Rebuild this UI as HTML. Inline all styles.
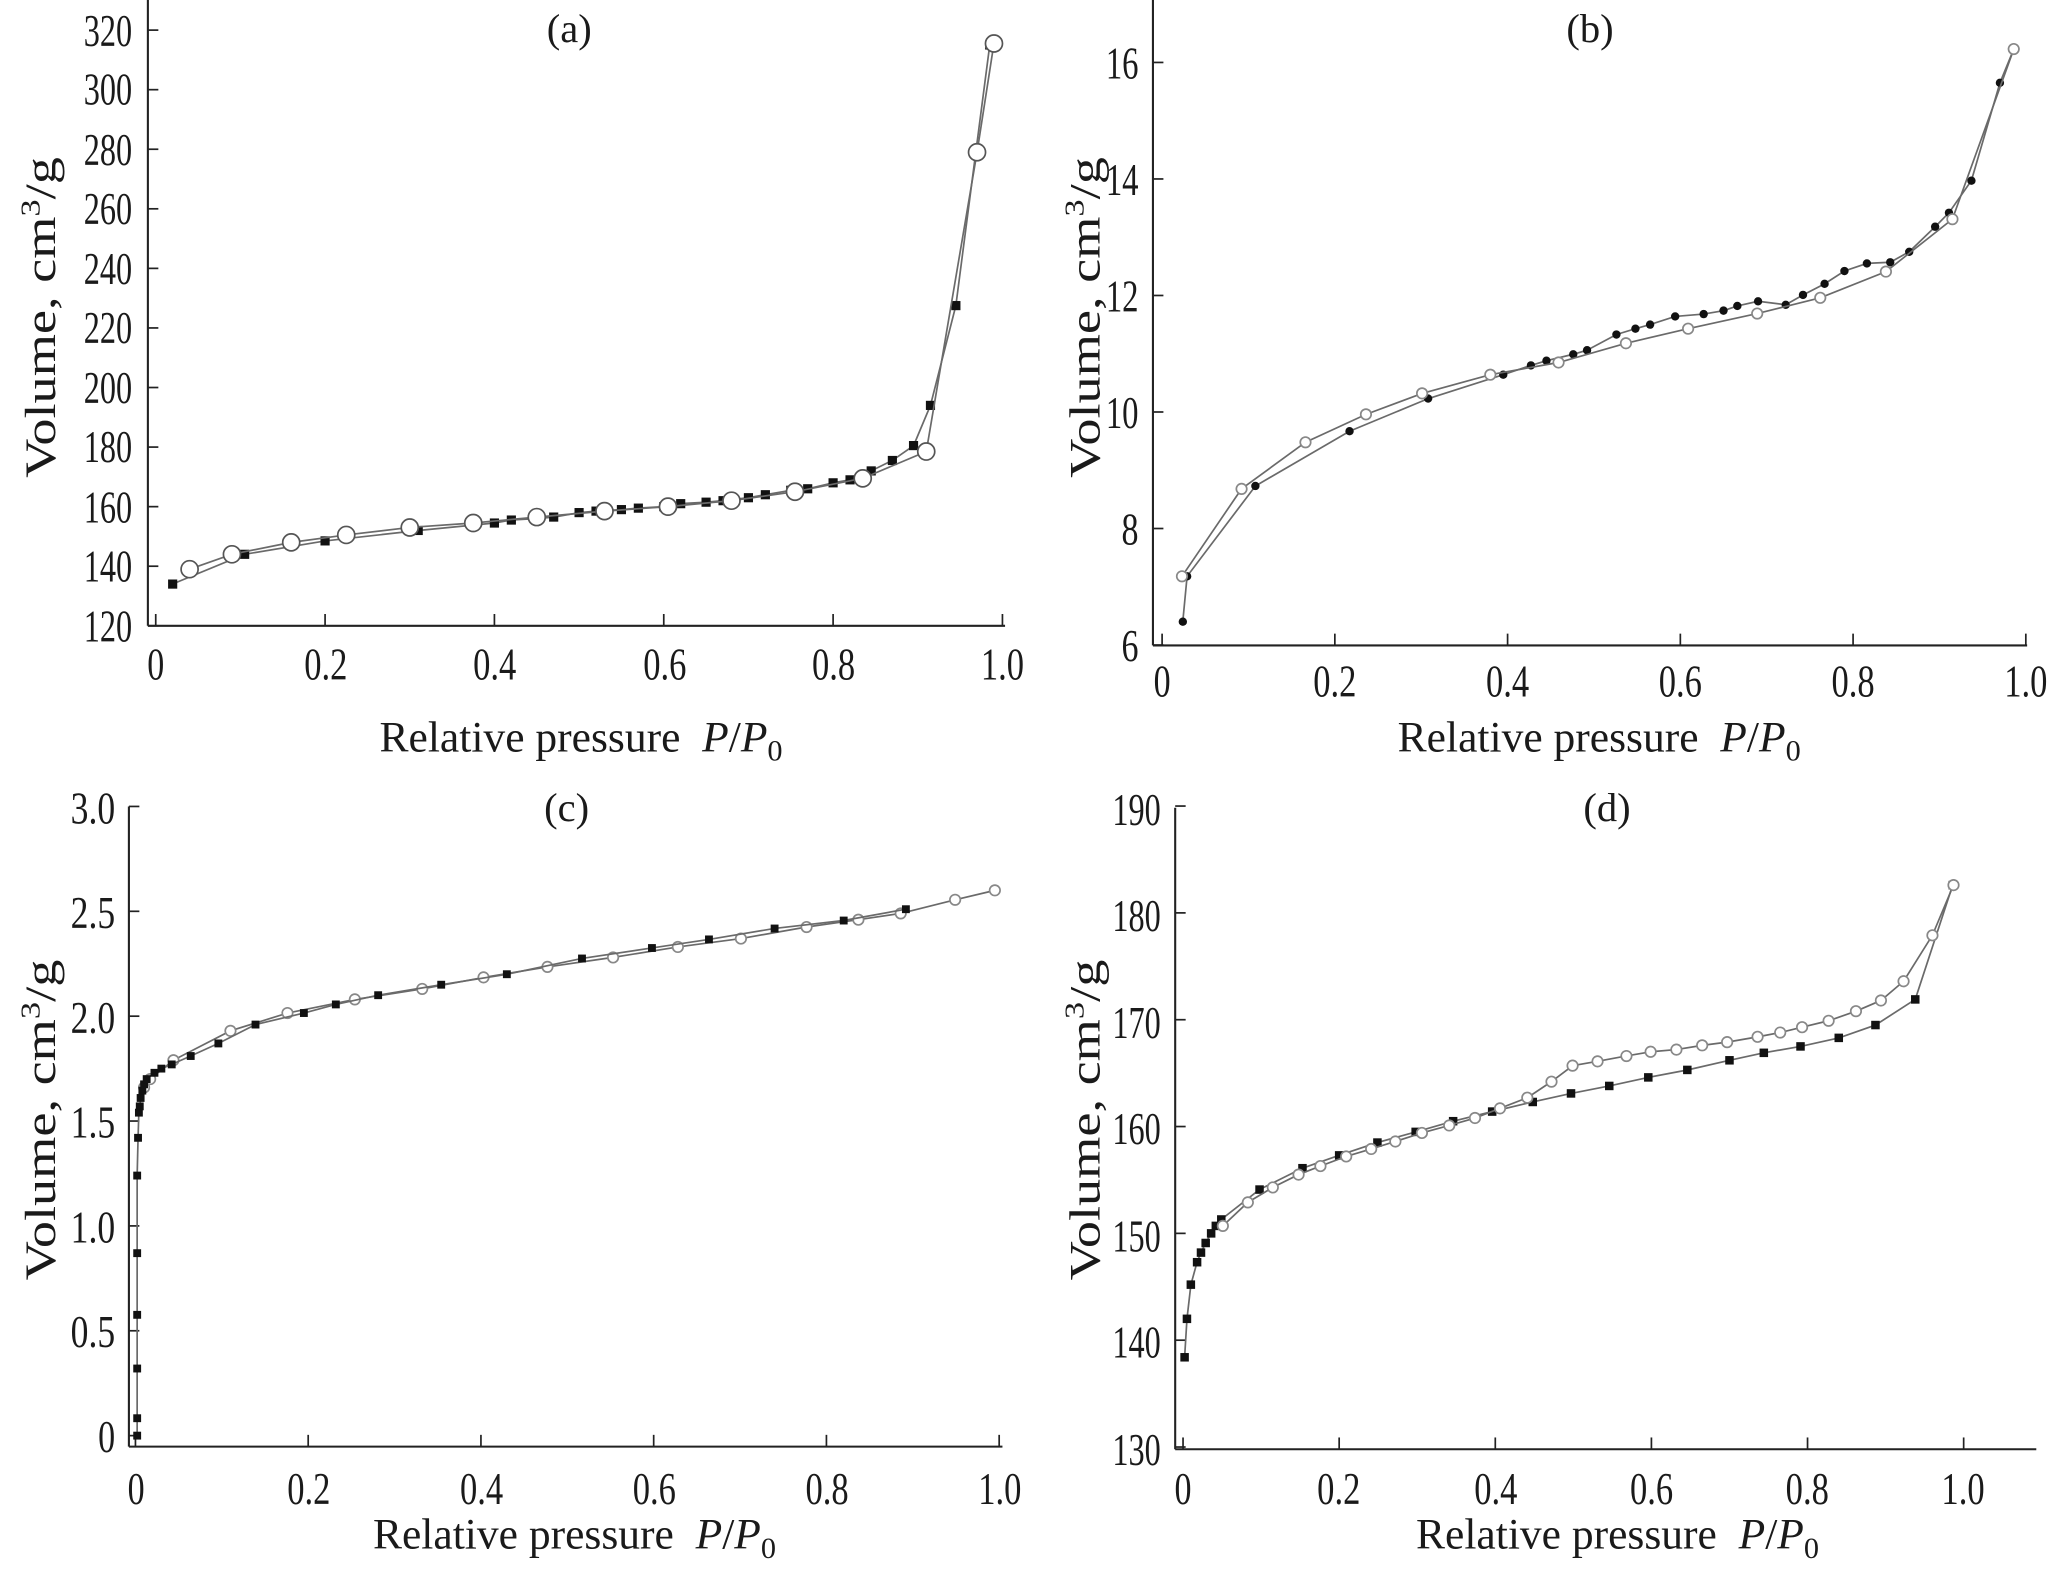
<!DOCTYPE html>
<html><head><meta charset="utf-8"><style>
html,body{margin:0;padding:0;background:#fff;}
svg{display:block;}
text{font-family:"Liberation Serif","DejaVu Serif",serif;fill:#1a1a1a;}
.t{font-size:35px;}
.ti{font-size:31px;}
.lab{font-size:33px;}
</style></head><body>
<svg id="s" width="2052" height="1571" viewBox="0 0 1568 1200" preserveAspectRatio="none" xmlns="http://www.w3.org/2000/svg">
<g id="g"></g>
<!-- Panel a text -->
<text class="ti" x="435" y="32" text-anchor="middle">(a)</text>
<g class="t" text-anchor="end">
<text x="101" y="35" textLength="37" lengthAdjust="spacingAndGlyphs">320</text>
<text x="101" y="80" textLength="37" lengthAdjust="spacingAndGlyphs">300</text>
<text x="101" y="126" textLength="37" lengthAdjust="spacingAndGlyphs">280</text>
<text x="101" y="171" textLength="37" lengthAdjust="spacingAndGlyphs">260</text>
<text x="101" y="217" textLength="37" lengthAdjust="spacingAndGlyphs">240</text>
<text x="101" y="262" textLength="37" lengthAdjust="spacingAndGlyphs">220</text>
<text x="101" y="308" textLength="37" lengthAdjust="spacingAndGlyphs">200</text>
<text x="101" y="353" textLength="37" lengthAdjust="spacingAndGlyphs">180</text>
<text x="101" y="399" textLength="37" lengthAdjust="spacingAndGlyphs">160</text>
<text x="101" y="444" textLength="37" lengthAdjust="spacingAndGlyphs">140</text>
<text x="101" y="490" textLength="37" lengthAdjust="spacingAndGlyphs">120</text>
</g>
<g class="t" text-anchor="middle">
<text x="119" y="519" textLength="13" lengthAdjust="spacingAndGlyphs">0</text>
<text x="249" y="519" textLength="33" lengthAdjust="spacingAndGlyphs">0.2</text>
<text x="378" y="519" textLength="33" lengthAdjust="spacingAndGlyphs">0.4</text>
<text x="508" y="519" textLength="33" lengthAdjust="spacingAndGlyphs">0.6</text>
<text x="637" y="519" textLength="33" lengthAdjust="spacingAndGlyphs">0.8</text>
<text x="766" y="519" textLength="33" lengthAdjust="spacingAndGlyphs">1.0</text>
</g>
<text class="lab" x="290" y="574" textLength="308" lengthAdjust="spacingAndGlyphs">Relative pressure&#160;&#160;<tspan font-style="italic">P</tspan>/<tspan font-style="italic">P</tspan><tspan font-size="23" dy="7">0</tspan></text>
<text class="lab" transform="translate(42,365) rotate(-90)" textLength="245" lengthAdjust="spacingAndGlyphs">Volume, cm<tspan font-size="21" dy="-12">3</tspan><tspan dy="12">/g</tspan></text>

<!-- Panel b text -->
<text class="ti" x="1215" y="32" text-anchor="middle">(b)</text>
<g class="t" text-anchor="end">
<text x="870" y="60" textLength="25" lengthAdjust="spacingAndGlyphs">16</text>
<text x="870" y="149" textLength="25" lengthAdjust="spacingAndGlyphs">14</text>
<text x="870" y="238" textLength="25" lengthAdjust="spacingAndGlyphs">12</text>
<text x="870" y="327" textLength="25" lengthAdjust="spacingAndGlyphs">10</text>
<text x="870" y="416" textLength="13" lengthAdjust="spacingAndGlyphs">8</text>
<text x="870" y="505" textLength="13" lengthAdjust="spacingAndGlyphs">6</text>
</g>
<g class="t" text-anchor="middle">
<text x="888" y="532" textLength="13" lengthAdjust="spacingAndGlyphs">0</text>
<text x="1020" y="532" textLength="33" lengthAdjust="spacingAndGlyphs">0.2</text>
<text x="1152" y="532" textLength="33" lengthAdjust="spacingAndGlyphs">0.4</text>
<text x="1284" y="532" textLength="33" lengthAdjust="spacingAndGlyphs">0.6</text>
<text x="1416" y="532" textLength="33" lengthAdjust="spacingAndGlyphs">0.8</text>
<text x="1548" y="532" textLength="33" lengthAdjust="spacingAndGlyphs">1.0</text>
</g>
<text class="lab" x="1068" y="574" textLength="308" lengthAdjust="spacingAndGlyphs">Relative pressure&#160;&#160;<tspan font-style="italic">P</tspan>/<tspan font-style="italic">P</tspan><tspan font-size="23" dy="7">0</tspan></text>
<text class="lab" transform="translate(840,365) rotate(-90)" textLength="245" lengthAdjust="spacingAndGlyphs">Volume, cm<tspan font-size="21" dy="-12">3</tspan><tspan dy="12">/g</tspan></text>

<!-- Panel c text -->
<text class="ti" x="433" y="627" text-anchor="middle">(c)</text>
<g class="t" text-anchor="end">
<text x="88" y="629" textLength="34" lengthAdjust="spacingAndGlyphs">3.0</text>
<text x="88" y="709" textLength="34" lengthAdjust="spacingAndGlyphs">2.5</text>
<text x="88" y="789" textLength="34" lengthAdjust="spacingAndGlyphs">2.0</text>
<text x="88" y="869" textLength="34" lengthAdjust="spacingAndGlyphs">1.5</text>
<text x="88" y="949" textLength="34" lengthAdjust="spacingAndGlyphs">1.0</text>
<text x="88" y="1029" textLength="34" lengthAdjust="spacingAndGlyphs">0.5</text>
<text x="88" y="1109" textLength="13" lengthAdjust="spacingAndGlyphs">0</text>
</g>
<g class="t" text-anchor="middle">
<text x="104" y="1149" textLength="13" lengthAdjust="spacingAndGlyphs">0</text>
<text x="236" y="1149" textLength="33" lengthAdjust="spacingAndGlyphs">0.2</text>
<text x="368" y="1149" textLength="33" lengthAdjust="spacingAndGlyphs">0.4</text>
<text x="500" y="1149" textLength="33" lengthAdjust="spacingAndGlyphs">0.6</text>
<text x="632" y="1149" textLength="33" lengthAdjust="spacingAndGlyphs">0.8</text>
<text x="764" y="1149" textLength="33" lengthAdjust="spacingAndGlyphs">1.0</text>
</g>
<text class="lab" x="285" y="1183" textLength="308" lengthAdjust="spacingAndGlyphs">Relative pressure&#160;&#160;<tspan font-style="italic">P</tspan>/<tspan font-style="italic">P</tspan><tspan font-size="23" dy="7">0</tspan></text>
<text class="lab" transform="translate(42,978) rotate(-90)" textLength="245" lengthAdjust="spacingAndGlyphs">Volume, cm<tspan font-size="21" dy="-12">3</tspan><tspan dy="12">/g</tspan></text>

<!-- Panel d text -->
<text class="ti" x="1228" y="627" text-anchor="middle">(d)</text>
<g class="t" text-anchor="end">
<text x="887" y="630" textLength="37" lengthAdjust="spacingAndGlyphs">190</text>
<text x="887" y="711" textLength="37" lengthAdjust="spacingAndGlyphs">180</text>
<text x="887" y="793" textLength="37" lengthAdjust="spacingAndGlyphs">170</text>
<text x="887" y="874" textLength="37" lengthAdjust="spacingAndGlyphs">160</text>
<text x="887" y="956" textLength="37" lengthAdjust="spacingAndGlyphs">150</text>
<text x="887" y="1037" textLength="37" lengthAdjust="spacingAndGlyphs">140</text>
<text x="887" y="1119" textLength="37" lengthAdjust="spacingAndGlyphs">130</text>
</g>
<g class="t" text-anchor="middle">
<text x="904" y="1149" textLength="13" lengthAdjust="spacingAndGlyphs">0</text>
<text x="1023" y="1149" textLength="33" lengthAdjust="spacingAndGlyphs">0.2</text>
<text x="1143" y="1149" textLength="33" lengthAdjust="spacingAndGlyphs">0.4</text>
<text x="1262" y="1149" textLength="33" lengthAdjust="spacingAndGlyphs">0.6</text>
<text x="1381" y="1149" textLength="33" lengthAdjust="spacingAndGlyphs">0.8</text>
<text x="1500" y="1149" textLength="33" lengthAdjust="spacingAndGlyphs">1.0</text>
</g>
<text class="lab" x="1082" y="1183" textLength="308" lengthAdjust="spacingAndGlyphs">Relative pressure&#160;&#160;<tspan font-style="italic">P</tspan>/<tspan font-style="italic">P</tspan><tspan font-size="23" dy="7">0</tspan></text>
<text class="lab" transform="translate(840,978) rotate(-90)" textLength="245" lengthAdjust="spacingAndGlyphs">Volume, cm<tspan font-size="21" dy="-12">3</tspan><tspan dy="12">/g</tspan></text>
</svg>
<script>
var NS="http://www.w3.org/2000/svg",G=document.getElementById("g");
function el(n,a){var e=document.createElementNS(NS,n);for(var k in a)e.setAttribute(k,a[k]);G.appendChild(e);return e;}
function panel(P){
 el("line",{x1:P.ax,y1:P.ytop,x2:P.ax,y2:P.ay,stroke:"#222","stroke-width":1.6});
 el("line",{x1:P.ax,y1:P.ay,x2:P.xend,y2:P.ay,stroke:"#222","stroke-width":1.6});
 for(var i=0;i<=5;i++){var x=P.x0+i*0.2*P.xs;el("line",{x1:x,y1:P.ay,x2:x,y2:P.ay-9,stroke:"#222","stroke-width":1.3});}
 P.yt.forEach(function(v){var y=P.Y(v);el("line",{x1:P.ax,y1:y,x2:P.ax+8,y2:y,stroke:"#222","stroke-width":1.3});});
 P.series.forEach(function(S){
  var pts=S.d.map(function(p){return [P.x0+p[0]*P.xs,P.Y(p[1])];});
  el("polyline",{points:pts.map(function(q){return q[0].toFixed(1)+","+q[1].toFixed(1);}).join(" "),fill:"none",stroke:"#6a6a6a","stroke-width":1.3});
  pts.forEach(function(q){
   if(S.m=="sq")el("rect",{x:q[0]-S.s/2,y:q[1]-S.s/2,width:S.s,height:S.s,fill:"#111"});
   else if(S.m=="dot")el("circle",{cx:q[0],cy:q[1],r:S.s,fill:"#111"});
   else el("circle",{cx:q[0],cy:q[1],r:S.s,fill:"#fff",stroke:S.c||"#777","stroke-width":S.w||1.3});
  });
 });
}
panel({ax:113,ay:478,ytop:0,xend:768,x0:119,xs:647,Y:function(v){return 478-(v-120)*2.275;},
 yt:[120,140,160,180,200,220,240,260,280,300,320],
 series:[
 {m:"sq",s:7,d:[[0.02,134],[0.105,144],[0.2,148.5],[0.31,152],[0.4,154.5],[0.42,155.5],[0.45,156],[0.47,156.5],[0.5,158],[0.52,158.5],[0.55,159],[0.57,159.5],[0.6,160],[0.62,161],[0.65,161.5],[0.67,162],[0.7,163],[0.72,164],[0.75,165.5],[0.77,166],[0.8,168],[0.82,169],[0.845,172],[0.87,175.5],[0.895,180.5],[0.915,194],[0.945,227.5],[0.985,315]]},
 {m:"o",s:6.5,c:"#555",d:[[0.04,139],[0.09,144],[0.16,148],[0.225,150.5],[0.3,153],[0.375,154.5],[0.45,156.5],[0.53,158.5],[0.605,160],[0.68,162],[0.755,165],[0.835,169.5],[0.91,178.5],[0.97,279],[0.99,315.5]]}
 ]});
panel({ax:881,ay:493,ytop:0,xend:1549,x0:888,xs:660,Y:function(v){return 492.7-(v-6)*44.5;},
 yt:[6,8,10,12,14,16],
 series:[
 {m:"dot",s:3.2,d:[[0.024,6.4],[0.029,7.18],[0.108,8.73],[0.217,9.67],[0.308,10.23],[0.395,10.64],[0.427,10.8],[0.445,10.88],[0.476,10.99],[0.492,11.06],[0.526,11.33],[0.548,11.43],[0.565,11.5],[0.594,11.64],[0.627,11.68],[0.65,11.74],[0.666,11.82],[0.69,11.9],[0.722,11.84],[0.742,12.01],[0.767,12.2],[0.79,12.42],[0.816,12.55],[0.843,12.57],[0.865,12.75],[0.895,13.18],[0.911,13.42],[0.937,13.97],[0.97,15.65],[0.986,16.23]]},
 {m:"o",s:4,c:"#888",d:[[0.023,7.18],[0.092,8.68],[0.166,9.48],[0.236,9.96],[0.301,10.32],[0.38,10.64],[0.459,10.85],[0.537,11.18],[0.609,11.43],[0.689,11.69],[0.762,11.96],[0.838,12.41],[0.915,13.31],[0.986,16.23]]}
 ]});
panel({ax:98.5,ay:1105,ytop:616,xend:766,x0:103.5,xs:660,Y:function(v){return 1096.6-v*160.2;},
 yt:[0,0.5,1,1.5,2,2.5,3],
 series:[
 {m:"o",s:4,c:"#888",d:[[0.01,1.66],[0.017,1.70],[0.044,1.79],[0.11,1.93],[0.176,2.015],[0.254,2.08],[0.332,2.13],[0.403,2.185],[0.477,2.235],[0.553,2.28],[0.628,2.33],[0.701,2.37],[0.777,2.425],[0.837,2.46],[0.886,2.49],[0.949,2.555],[0.995,2.6]]},
 {m:"sq",s:6,d:[[0.002,0],[0.002,0.083],[0.002,0.32],[0.002,0.576],[0.002,0.87],[0.002,1.24],[0.003,1.42],[0.004,1.54],[0.005,1.57],[0.006,1.61],[0.008,1.645],[0.01,1.675],[0.013,1.7],[0.022,1.73],[0.03,1.75],[0.042,1.77],[0.064,1.81],[0.096,1.87],[0.139,1.96],[0.195,2.015],[0.232,2.056],[0.281,2.1],[0.354,2.15],[0.43,2.2],[0.517,2.275],[0.598,2.325],[0.664,2.366],[0.74,2.418],[0.82,2.456],[0.892,2.51]]}
 ]});
panel({ax:898,ay:1107,ytop:617,xend:1556,x0:904,xs:596.5,Y:function(v){return 1105.3-(v-130)*8.16;},
 yt:[130,140,150,160,170,180,190],
 series:[
 {m:"sq",s:6.5,d:[[0.002,138.4],[0.005,142],[0.01,145.2],[0.018,147.3],[0.023,148.2],[0.029,149.1],[0.036,150],[0.042,150.7],[0.049,151.3],[0.098,154.1],[0.153,156.1],[0.2,157.3],[0.249,158.5],[0.298,159.5],[0.346,160.5],[0.396,161.4],[0.448,162.3],[0.497,163.1],[0.546,163.8],[0.596,164.6],[0.646,165.3],[0.7,166.2],[0.744,166.9],[0.791,167.5],[0.84,168.3],[0.887,169.5],[0.938,171.9],[0.986,182.6]]},
 {m:"o",s:4,c:"#888",d:[[0.051,150.7],[0.083,152.9],[0.115,154.3],[0.148,155.5],[0.176,156.3],[0.209,157.2],[0.241,157.9],[0.272,158.6],[0.306,159.4],[0.341,160.1],[0.374,160.8],[0.406,161.7],[0.441,162.7],[0.472,164.2],[0.499,165.7],[0.531,166.1],[0.568,166.6],[0.599,167.0],[0.632,167.2],[0.665,167.6],[0.697,167.9],[0.736,168.4],[0.765,168.8],[0.793,169.3],[0.827,169.9],[0.862,170.8],[0.894,171.8],[0.923,173.6],[0.96,177.9],[0.987,182.6]]}
 ]});
</script>
</body></html>
